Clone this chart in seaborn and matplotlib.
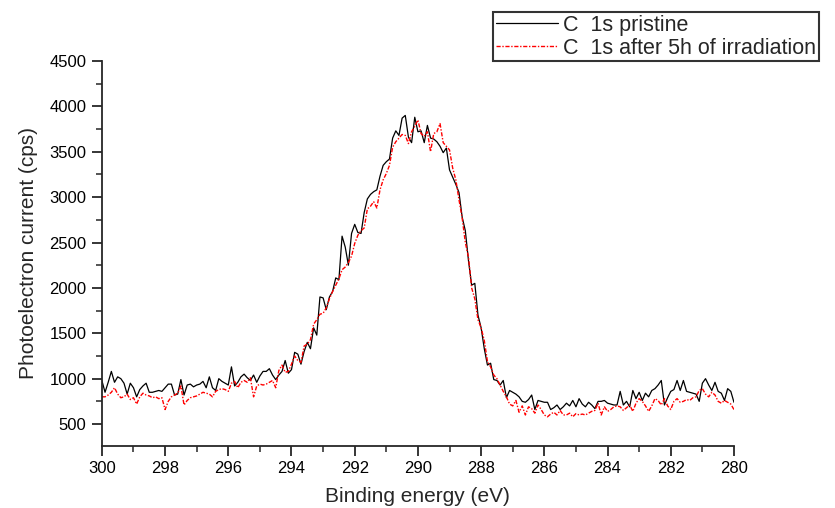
import numpy as np
import pandas as pd
import matplotlib
matplotlib.use("Agg")
import matplotlib.pyplot as plt
import seaborn as sns
from matplotlib.ticker import MultipleLocator

# binding energy grid, 0.1 eV step from 300 down to 280 eV
energy = np.round(np.linspace(300.0, 280.0, 201), 1)

# C 1s pristine (cps)
pristine = [
    980, 850, 960, 1080, 960, 1020, 1000, 950, 830, 950,
    900, 800, 880, 920, 950, 850, 850, 860, 870, 860,
    900, 940, 940, 820, 830, 990, 820, 930, 940, 910,
    930, 940, 970, 900, 1020, 900, 870, 1000, 970, 950,
    930, 1130, 920, 960, 1020, 1050, 1010, 980, 1040, 960,
    1030, 1080, 1080, 1110, 1040, 990, 1040, 1080, 1200, 1060,
    1100, 1290, 1270, 1160, 1300, 1400, 1330, 1560, 1480, 1900,
    1890, 1760, 1900, 1960, 2110, 2090, 2570,
    2450, 2250, 2600, 2700, 2610, 2600, 2830, 2980, 3030, 3060,
    3080, 3230, 3350, 3390, 3420, 3650, 3730, 3680, 3870, 3900,
    3660, 3600, 3880, 3720, 3730, 3600, 3790, 3650, 3640, 3610,
    3560, 3490, 3540, 3300, 3220, 3140, 3050, 2780, 2630, 2300,
    2030, 2050, 1700, 1560, 1330, 1150, 1170, 990, 980, 930,
    980, 790, 870, 850, 830, 800, 750, 740, 770, 820,
    660, 760, 750, 740, 740, 660, 680, 710, 660, 690,
    730, 700, 760, 690, 780, 720, 690, 740, 710, 670,
    750, 750, 760, 730, 720, 710, 710, 860, 710, 750,
    690, 870, 780, 850, 760, 840, 800, 870, 890, 930,
    980, 710, 790, 860, 880, 980, 870, 980, 860, 850,
    840, 830, 750, 950, 1000, 930, 870, 960, 860, 840,
    760, 890, 860, 740,
]

# C 1s after 5 h of irradiation (cps)
irradiated = [
    800, 800, 820, 850, 900, 830, 790, 800, 830, 770,
    790, 720, 800, 840, 820, 810, 790, 800, 780, 790,
    660, 750, 800, 820, 840, 920, 710, 760, 790, 800,
    810, 830, 850, 840, 830, 800, 860, 880, 890, 880,
    860, 950, 970, 900, 960, 980, 960, 1010, 800, 920,
    940, 930, 940, 960, 980, 900, 1090, 1150, 1070, 1080,
    1160, 1250, 1200, 1180, 1360, 1380, 1430, 1600, 1650, 1710,
    1720, 1780, 1880, 1960, 2030, 2100, 2200,
    2230, 2280, 2350, 2490, 2580, 2630, 2660, 2870, 2900, 2950,
    2880, 3080, 3190, 3260, 3350, 3550, 3610, 3650, 3690, 3680,
    3590, 3720, 3780, 3850, 3700, 3670, 3720, 3500, 3700, 3720,
    3810, 3600, 3560, 3520, 3320, 3190, 2970, 2770, 2500, 2340,
    2000, 1880, 1650, 1560, 1420, 1190, 1130, 1040, 1000, 930,
    860, 800, 720, 700, 760, 630, 700, 600, 690, 670,
    620, 710, 660, 600, 580, 610, 630, 600, 650, 600,
    600, 620, 580, 615, 600, 610, 600, 620, 640, 650,
    730, 600, 690, 640, 660, 690, 700, 690, 650, 680,
    710, 640, 730, 780, 750, 700, 640, 700, 780, 760,
    710, 780, 700, 660, 750, 780, 740, 750, 770, 760,
    790, 800, 870, 890, 830, 800, 850, 820, 750, 730,
    760, 740, 720, 660,
]

labels = ["C  1s pristine", "C  1s after 5h of irradiation"]

df = pd.DataFrame({"energy": energy, "pristine": pristine, "irradiated": irradiated})

sns.set_style("ticks")
plt.rcParams["font.family"] = ["Liberation Sans", "DejaVu Sans"]

fig = plt.figure(figsize=(8.35, 5.08), dpi=100)
ax = fig.add_axes([0.122, 0.122, 0.757, 0.758])

sns.lineplot(data=df, x="energy", y="pristine", ax=ax, color="black",
             linewidth=0.9, label=labels[0], sort=False)
sns.lineplot(data=df, x="energy", y="irradiated", ax=ax, color="#ff0000",
             linewidth=1.0, linestyle=(0, (3, 1.2, 1, 1.2)), label=labels[1], sort=False)

ax.set_xlim(300, 280)
ax.set_ylim(258, 4500)
ax.xaxis.set_major_locator(MultipleLocator(2))
ax.xaxis.set_minor_locator(MultipleLocator(1))
ax.yaxis.set_major_locator(MultipleLocator(500))
ax.yaxis.set_minor_locator(MultipleLocator(250))
ax.set_yticks(np.arange(500, 4501, 500))

ax.tick_params(which="major", length=7, width=1.1, labelsize=12, pad=4, colors="black")
ax.tick_params(which="minor", length=4, width=1.1)
for s in ["left", "bottom"]:
    ax.spines[s].set_linewidth(1.3)
sns.despine(ax=ax)

ax.set_xlabel("Binding energy (eV)", fontsize=15, labelpad=8)
ax.set_ylabel("Photoelectron current (cps)", fontsize=15, labelpad=8)

ax.get_legend().remove()
h, l = ax.get_legend_handles_labels()
leg = fig.legend(h, l, loc="upper left", bbox_to_anchor=(493 / 835, 1 - 12 / 508),
                 bbox_transform=fig.transFigure, fontsize=15.5, frameon=True,
                 fancybox=False, borderpad=0.12, borderaxespad=0, handlelength=2.9,
                 handletextpad=0.25, labelspacing=0.1)
leg.get_frame().set_edgecolor("black")
leg.get_frame().set_linewidth(1.5)

fig.savefig("out.png", dpi=100)
